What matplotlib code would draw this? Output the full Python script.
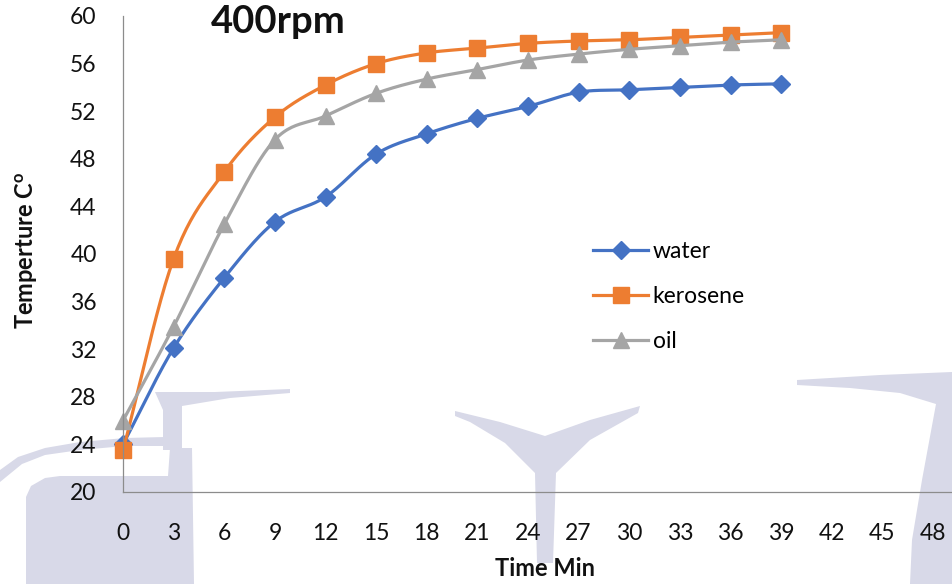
import numpy as np
import matplotlib
matplotlib.use("Agg")
import matplotlib.pyplot as plt
from matplotlib.patches import Polygon

plt.rcParams['font.family'] = ['Lato', 'DejaVu Sans']
plt.rcParams['mathtext.fontset'] = 'custom'
plt.rcParams['mathtext.rm'] = 'Lato'
plt.rcParams['mathtext.bf'] = 'Lato:bold'

# Measurements: temperature (°C) against time (min) at 400 rpm
time_min = [0, 3, 6, 9, 12, 15, 18, 21, 24, 27, 30, 33, 36, 39]
water = [24.0, 32.1, 38.0, 42.7, 44.8, 48.4, 50.1, 51.4, 52.4, 53.6, 53.8, 54.0, 54.2, 54.3]
kerosene = [23.5, 39.6, 46.9, 51.5, 54.2, 56.0, 56.9, 57.3, 57.7, 57.9, 58.0, 58.2, 58.4, 58.6]
oil = [26.0, 33.9, 42.5, 49.6, 51.6, 53.5, 54.7, 55.5, 56.3, 56.8, 57.2, 57.5, 57.8, 58.0]

x_ticks = list(range(0, 49, 3))
y_ticks = list(range(20, 61, 4))

W, H = 952, 584


def smooth(xs, ys, n=24):
    """Catmull-Rom curve through the given points (for smoothed line drawing)."""
    p = np.column_stack([xs, ys]).astype(float)
    p = np.vstack([2 * p[0] - p[1], p, 2 * p[-1] - p[-2]])
    out = []
    t = np.linspace(0, 1, n, endpoint=False)[:, None]
    for i in range(1, len(p) - 2):
        p0, p1, p2, p3 = p[i - 1], p[i], p[i + 1], p[i + 2]
        seg = 0.5 * ((2 * p1) + (-p0 + p2) * t + (2 * p0 - 5 * p1 + 4 * p2 - p3) * t ** 2
                     + (-p0 + 3 * p1 - 3 * p2 + p3) * t ** 3)
        out.append(seg)
    out.append(p[-2][None, :])
    c = np.vstack(out)
    return c[:, 0], c[:, 1]


fig = plt.figure(figsize=(W / 100, H / 100), dpi=100)


def fx(px):
    return px / W


def fy(py):
    return 1 - py / H


# faint background watermark shapes
wm_color = '#d8d9e8'
shapes = [
    # lower-left block
    [(26, 584), (26, 497), (31, 486), (45, 478), (60, 476), (168, 476), (170, 448),
     (192, 448), (194, 584)],
    # column above block
    [(163, 398), (182, 398), (182, 450), (163, 450)],
    # thin bar to the right of the column
    [(155, 392), (215, 392), (290, 389), (290, 393), (230, 398), (182, 406), (163, 410)],
    # curved band on the left
    [(0, 470), (18, 457), (45, 448), (80, 442), (125, 438), (165, 437), (165, 446),
     (125, 446), (80, 450), (45, 455), (22, 464), (0, 482)],
    # Y-shaped mark in the middle
    [(455, 411), (500, 422), (545, 436), (590, 420), (640, 406), (638, 413), (590, 440),
     (556, 473), (553, 563), (537, 563), (535, 473), (505, 443), (470, 422), (455, 416)],
    # right-hand shape
    [(797, 380), (880, 375), (952, 372), (952, 584), (910, 584), (912, 540),
     (922, 480), (936, 404), (900, 393), (850, 388), (797, 385)],
]
for s in shapes:
    fig.patches.append(Polygon([(fx(a), fy(b)) for a, b in s], closed=True,
                               transform=fig.transFigure, facecolor=wm_color,
                               edgecolor='none', zorder=-10))

left, right, top, bottom = 123, 952, 16, 492
ax = fig.add_axes([fx(left), fy(bottom), fx(right - left), (bottom - top) / H])
ax.set_facecolor('none')
ax.set_zorder(1)

x_max = (right - left) / ((933 - 123) / 48)
ax.set_xlim(0, x_max)
ax.set_ylim(20, 60)
ax.set_xticks(x_ticks)
ax.set_yticks(y_ticks)

series = [
    ('water', water, '#4472C4', 'D', 9.5),
    ('kerosene', kerosene, '#ED7D31', 's', 11),
    ('oil', oil, '#A5A5A5', '^', 11.5),
]
for name, vals, col, mk, ms in series:
    sx, sy = smooth(time_min, vals)
    ax.plot(sx, sy, color=col, lw=2.3, solid_capstyle='round', clip_on=False)
    ax.plot(time_min, vals, linestyle='none', marker=mk, ms=ms, color=col,
            markeredgecolor=col, clip_on=False)
    ax.plot([], [], color=col, lw=2.3, marker=mk, ms=ms, label=name)

for side in ('top', 'right'):
    ax.spines[side].set_visible(False)
for side in ('left', 'bottom'):
    ax.spines[side].set_color('#8c8c8c')
    ax.spines[side].set_linewidth(0.9)

ax.tick_params(axis='both', length=0, labelsize=16.5, labelcolor='#111111')
ax.tick_params(axis='y', pad=19)
ax.tick_params(axis='x', pad=22)

handles, labels = ax.get_legend_handles_labels()
leg = fig.legend(handles[:3], labels[:3], loc='upper left',
                 bbox_to_anchor=(fx(584), fy(232)), frameon=False,
                 fontsize=16.5, handlelength=2.4, handletextpad=0.2,
                 labelspacing=1.05, borderaxespad=0)
leg.set_zorder(2)

fig.text(fx(278), fy(22), '400rpm', fontsize=27.5, fontweight='bold',
         ha='center', va='center', color='#111111', zorder=3)
fig.text(fx(545), fy(568), 'Time Min', fontsize=17, fontweight='bold',
         ha='center', va='center', color='#111111', zorder=3)
fig.text(fx(27), fy(250), r'Temperture C$^{\mathbf{o}}$', fontsize=17,
         fontweight='bold', rotation=90, ha='center', va='center', color='#111111',
         zorder=3)

fig.savefig('out.png', dpi=100)
